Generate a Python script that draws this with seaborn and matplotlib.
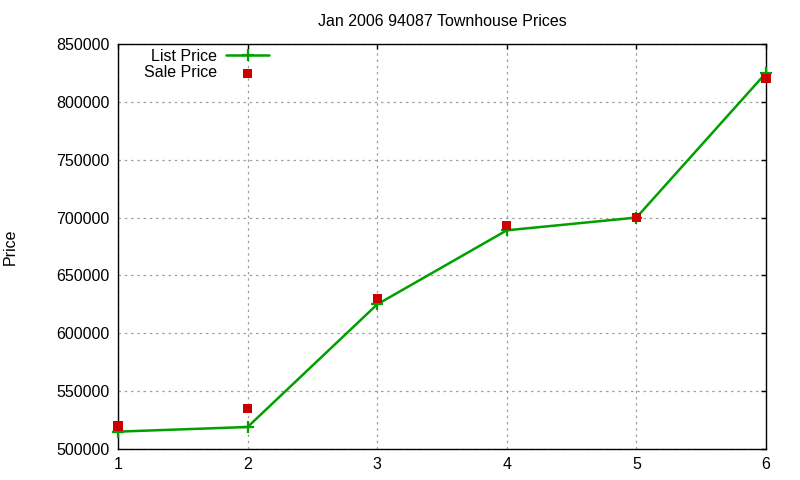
import matplotlib
matplotlib.use('Agg')
import matplotlib.pyplot as plt
import seaborn as sns
import pandas as pd

# data
months = [1, 2, 3, 4, 5, 6]
list_price = [515000, 519000, 625000, 689000, 700000, 825000]
sale_price = [520000, 535000, 630000, 693000, 700000, 820000]
y_ticks = [500000, 550000, 600000, 650000, 700000, 750000, 800000, 850000]

sns.set_style('white')
plt.rcParams['font.family'] = ['Liberation Sans', 'DejaVu Sans']
plt.rcParams['text.color'] = 'black'
plt.rcParams['axes.labelcolor'] = 'black'
plt.rcParams['xtick.color'] = 'black'
plt.rcParams['ytick.color'] = 'black'

df = pd.DataFrame({'x': months, 'list': list_price, 'sale': sale_price})

fig = plt.figure(figsize=(8, 4.8), dpi=100)
ax = fig.add_axes([0.1475, 0.0646, 0.81, 0.8437])

sns.lineplot(data=df, x='x', y='list', ax=ax, color='#00a000', lw=1.8,
             marker='+', markersize=8, markeredgewidth=1.6,
             markeredgecolor='#00a000', label='List Price', zorder=3,
             clip_on=False)
sns.scatterplot(data=df, x='x', y='sale', ax=ax, color='#cc0000', marker='s',
                s=45, edgecolor='none', label='Sale Price', zorder=4,
                clip_on=False)

ax.set_xlim(1, 6)
ax.set_ylim(500000, 850000)
ax.set_xticks(months)
ax.set_yticks(y_ticks)
ax.set_xticklabels([str(m) for m in months])
ax.set_yticklabels([str(v) for v in y_ticks])
ax.grid(True, color='#a0a0a0', linestyle=(0, (2, 3)), lw=0.9)
ax.set_axisbelow(True)
for s in ax.spines.values():
    s.set_color('black')
    s.set_linewidth(1.0)
ax.tick_params(direction='in', length=3.5, width=1.0, labelsize=11.5,
               top=True, right=True, color='black', pad=6)
ax.tick_params(axis='x', pad=6)

ax.set_xlabel('')
ax.set_ylabel('Price', fontsize=11.5, labelpad=28)
ax.set_title('Jan 2006 94087 Townhouse Prices', fontsize=11.5, pad=13)

ax.legend(loc='upper left', bbox_to_anchor=(0.032, 1.0), frameon=False,
          markerfirst=False, fontsize=11.5, handlelength=2.7,
          handletextpad=0.6, borderaxespad=0.2, labelspacing=0.1,
          borderpad=0.1)

fig.savefig('out.png', dpi=100)
